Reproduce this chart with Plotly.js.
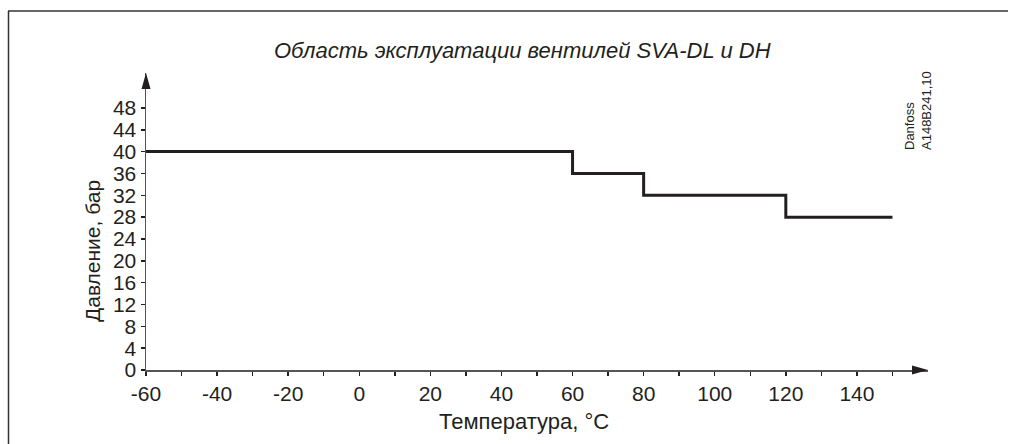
<!DOCTYPE html>
<html>
<head>
<meta charset="utf-8">
<script src="https://cdn.plot.ly/plotly-3.0.1.min.js"></script>
<style>html,body{margin:0;padding:0;background:#fff;}#chart{width:1018px;height:444px;}</style>
</head>
<body>
<div id="chart"></div>
<script>
// Data
const temperature = [-60, 60, 80, 120, 150];
const pressure = [40, 36, 32, 28, 28];
const xTickValues = [-60, -50, -40, -30, -20, -10, 0, 10, 20, 30, 40, 50, 60, 70, 80, 90, 100, 110, 120, 130, 140, 150];
const xTickLabels = ['-60', '', '-40', '', '-20', '', '0', '', '20', '', '40', '', '60', '', '80', '', '100', '', '120', '', '140', ''];
const yTickValues = [0, 4, 8, 12, 16, 20, 24, 28, 32, 36, 40, 44, 48];
const yTickLabels = ['0', '4', '8', '12', '16', '20', '24', '28', '32', '36', '40', '44', '48'];
const chartTitle = 'Область эксплуатации вентилей SVA-DL и DH';
const xTitle = 'Температура, °C';
const yTitle = 'Давление, бар';
const stampText = 'Danfoss<br>A148B241,10';

const ink = '#231f20';
const axisColor = '#555555';
const fontFam = 'Liberation Sans, Arial, sans-serif';

const trace = {
  x: temperature,
  y: pressure,
  type: 'scatter',
  mode: 'lines',
  line: {shape: 'hv', color: ink, width: 3},
  hoverinfo: 'skip'
};

const L = 146, R = 90, T = 73, B = 74, W = 1018, H = 444;
const pw = W - L - R, ph = H - T - B;
const px = v => (v - L) / pw;
const py = v => (H - B - v) / ph;

const layout = {
  width: W, height: H,
  margin: {l: L, r: R, t: T, b: B, pad: 0},
  paper_bgcolor: '#ffffff',
  plot_bgcolor: '#ffffff',
  showlegend: false,
  font: {family: fontFam, color: ink},
  xaxis: {
    range: [-60, 160],
    showgrid: false, zeroline: false,
    showline: true, linecolor: axisColor, linewidth: 1.5,
    ticks: 'outside', ticklen: 4, tickwidth: 1.5, tickcolor: ink,
    tickmode: 'array', tickvals: xTickValues, ticktext: xTickLabels,
    tickfont: {size: 21, color: ink, family: fontFam},
    fixedrange: true
  },
  yaxis: {
    range: [0, 54.4],
    showgrid: false, zeroline: false,
    showline: true, linecolor: axisColor, linewidth: 1.5,
    ticks: 'outside', ticklen: 4, tickwidth: 1.5, tickcolor: ink,
    ticksuffix: '\u00a0',
    tickmode: 'array', tickvals: yTickValues, ticktext: yTickLabels,
    tickfont: {size: 21, color: ink, family: fontFam},
    fixedrange: true
  },
  shapes: [
    // x-axis arrow
    {type: 'path', xref: 'paper', yref: 'paper',
     path: `M 1 0 L ${px(912)} ${py(365.5)} L ${px(912)} ${py(374.5)} Z`,
     fillcolor: ink, line: {width: 0}},
    // y-axis arrow
    {type: 'path', xref: 'paper', yref: 'paper',
     path: `M 0 1 L ${px(141.5)} ${py(89)} L ${px(150.5)} ${py(89)} Z`,
     fillcolor: ink, line: {width: 0}},
    // frame left
    {type: 'line', xref: 'paper', yref: 'paper',
     x0: px(8.5), x1: px(8.5), y0: py(11), y1: py(444),
     line: {color: '#333333', width: 1.5}},
    // frame top
    {type: 'line', xref: 'paper', yref: 'paper',
     x0: px(8), x1: px(1008), y0: py(11), y1: py(11),
     line: {color: '#333333', width: 1.5}}
  ],
  annotations: [
    {text: chartTitle, xref: 'paper', yref: 'paper', x: px(522), y: py(50),
     xanchor: 'center', yanchor: 'middle', showarrow: false,
     font: {size: 22, color: ink, family: fontFam, style: 'italic'}},
    {text: xTitle, xref: 'paper', yref: 'paper', x: px(524), y: py(421),
     xanchor: 'center', yanchor: 'middle', showarrow: false,
     font: {size: 22, color: ink, family: fontFam}},
    {text: yTitle, xref: 'paper', yref: 'paper', x: px(93), y: py(251),
     xanchor: 'center', yanchor: 'middle', showarrow: false, textangle: -90,
     font: {size: 21, color: ink, family: fontFam}},
    {text: stampText, xref: 'paper', yref: 'paper', x: px(918), y: py(111),
     xanchor: 'center', yanchor: 'middle', showarrow: false, textangle: -90, align: 'left',
     font: {size: 13, color: ink, family: fontFam}}
  ]
};

Plotly.newPlot('chart', [trace], layout, {displayModeBar: false, staticPlot: true});
</script>
</body>
</html>
